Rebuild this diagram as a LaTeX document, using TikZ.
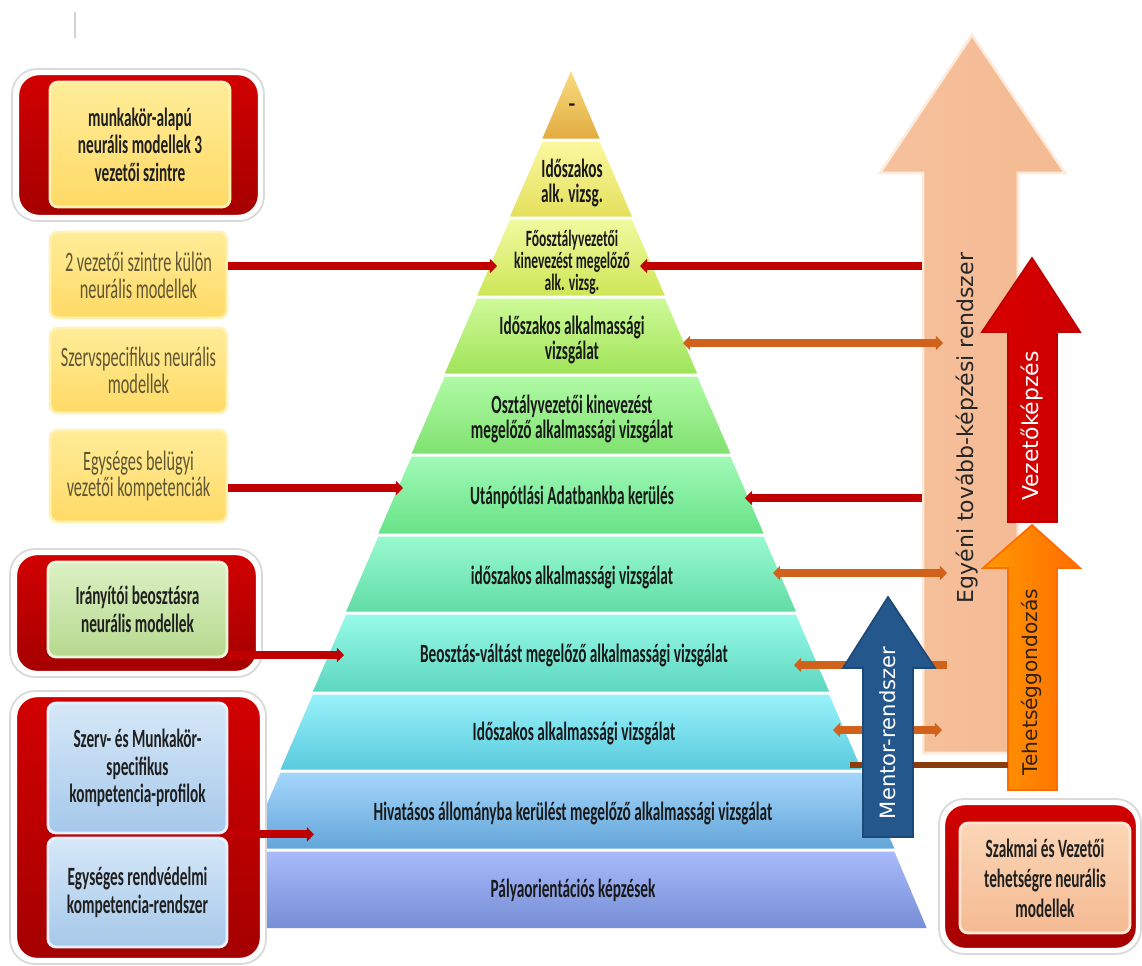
\documentclass[tikz,border=0pt]{standalone}
\usepackage{fontspec}
\setmainfont{Carlito}
\newfontfamily\condfont[FakeStretch=0.58]{Carlito}
\newfontfamily\arrowfont{DejaVu Sans}
\usetikzlibrary{positioning,arrows.meta}

\definecolor{frametop}{HTML}{D20000}
\definecolor{framebot}{HTML}{A40000}
\definecolor{linkred}{HTML}{C00000}
\definecolor{linkorange}{HTML}{D0621C}
\definecolor{linkbrown}{HTML}{8C3C0C}
\definecolor{yellowtop}{HTML}{FFEC98}
\definecolor{yellowbot}{HTML}{FFDA66}
\definecolor{yellowrim}{HTML}{FFF2B4}
\definecolor{greentop}{HTML}{DCF0C4}
\definecolor{greenbot}{HTML}{B6D98E}
\definecolor{bluetop}{HTML}{D6E8F8}
\definecolor{bluebot}{HTML}{A6C8EA}
\definecolor{peachtop}{HTML}{FBD6B6}
\definecolor{peachbot}{HTML}{F4BA92}
\definecolor{plaingray}{HTML}{5E5634}

\begin{document}
\begin{tikzpicture}[x=0.02cm, y=-0.02cm,
  level/.style={font=\condfont\bfseries\fontsize{15}{14.2}\selectfont, text=black!90, align=center},
  infobox/.style={rounded corners=0.16cm, line width=1.6pt, align=center, inner sep=2pt},
  yellowbox/.style={infobox, draw=yellowrim, top color=yellowtop, bottom color=yellowbot},
  greenbox/.style={infobox, draw=greentop!60!white, top color=greentop, bottom color=greenbot},
  bluebox/.style={infobox, draw=bluetop!60!white, top color=bluetop, bottom color=bluebot},
  peachbox/.style={infobox, draw=peachtop!60!white, top color=peachtop, bottom color=peachbot},
  boldtext/.style={font=\condfont\bfseries\fontsize{15}{15.6}\selectfont, text=black!88},
  plaintext/.style={font=\condfont\fontsize{16}{15.3}\selectfont, text=plaingray},
  redframe/.style={rounded corners=0.44cm, draw=white, line width=2.5pt, top color=frametop, bottom color=framebot},
  framerim/.style={rounded corners=0.5cm, draw=gray!30, line width=1pt, fill=white},
  arrowtext/.style={rotate=90, font=\arrowfont\fontsize{11}{11}\selectfont},
  redlink/.style={draw=linkred, line width=4.5pt, -{Triangle[length=4pt, width=8pt]}},
  orangelink/.style={draw=linkorange, line width=4.5pt, {Triangle[length=4pt, width=8pt]}-{Triangle[length=4pt, width=8pt]}},
  orangeone/.style={draw=linkorange, line width=4.5pt, -{Triangle[length=4pt, width=8pt]}}
]
\useasboundingbox (0,0) rectangle (1142,965);

% stray cursor mark
\draw[gray!35, line width=1.5pt] (75,12) -- (75,38);

% pyramid bands, top to bottom
\shade[top color={rgb,255:red,248;green,220;blue,128}, bottom color={rgb,255:red,226;green,172;blue,64}] (571,71) -- (599.6,138.5) -- (542.4,138.5) -- cycle;
\shade[top color={rgb,255:red,250;green,248;blue,160}, bottom color={rgb,255:red,228;green,224;blue,92}] (542.4,141.5) -- (599.6,141.5) -- (632,216.5) -- (510,216.5) -- cycle;
\shade[top color={rgb,255:red,240;green,250;blue,160}, bottom color={rgb,255:red,206;green,230;blue,88}] (510,219.5) -- (632,219.5) -- (664.8,295.5) -- (477.2,295.5) -- cycle;
\shade[top color={rgb,255:red,206;green,250;blue,152}, bottom color={rgb,255:red,160;green,228;blue,90}] (477.2,298.5) -- (664.8,298.5) -- (697.2,373.5) -- (444.8,373.5) -- cycle;
\shade[top color={rgb,255:red,176;green,250;blue,166}, bottom color={rgb,255:red,128;green,226;blue,112}] (444.8,376.5) -- (697.2,376.5) -- (730.4,453.5) -- (411.6,453.5) -- cycle;
\shade[top color={rgb,255:red,160;green,250;blue,182}, bottom color={rgb,255:red,104;green,226;blue,136}] (411.6,456.5) -- (730.4,456.5) -- (763.6,533.5) -- (378.4,533.5) -- cycle;
\shade[top color={rgb,255:red,152;green,250;blue,208}, bottom color={rgb,255:red,98;green,220;blue,166}] (378.4,536.5) -- (763.6,536.5) -- (795.9,611.5) -- (346.1,611.5) -- cycle;
\shade[top color={rgb,255:red,152;green,250;blue,232}, bottom color={rgb,255:red,92;green,214;blue,192}] (346.1,614.5) -- (795.9,614.5) -- (829.1,691.5) -- (312.9,691.5) -- cycle;
\shade[top color={rgb,255:red,152;green,242;blue,250}, bottom color={rgb,255:red,90;green,202;blue,222}] (312.9,694.5) -- (829.1,694.5) -- (861.5,769.5) -- (280.5,769.5) -- cycle;
\shade[top color={rgb,255:red,164;green,214;blue,250}, bottom color={rgb,255:red,100;green,166;blue,218}] (280.5,772.5) -- (861.5,772.5) -- (894.3,848.5) -- (247.7,848.5) -- cycle;
\shade[top color={rgb,255:red,168;green,186;blue,250}, bottom color={rgb,255:red,118;green,142;blue,214}] (247.7,851.5) -- (894.3,851.5) -- (926.7,928) -- (215.3,928) -- cycle;

% level captions
\node[level] (csucs) at (572,108) {–};
\node[level] (lev2) at (572,183) {Időszakos\\alk. vizsg.};
\node[level, font=\condfont\bfseries\fontsize{13.3}{12.5}\selectfont] (lev3) at (572,262) {Főosztályvezetői\\kinevezést megelőző\\alk. vizsg.};
\node[level] (lev4) at (572,340) {Időszakos alkalmassági\\vizsgálat};
\node[level] (lev5) at (572,419) {Osztályvezetői kinevezést\\megelőző alkalmassági vizsgálat};
\node[level] (lev6) at (572,497) {Utánpótlási Adatbankba kerülés};
\node[level] (lev7) at (572,577) {időszakos alkalmassági vizsgálat};
\node[level] (lev8) at (574,655) {Beosztás-váltást megelőző alkalmassági vizsgálat};
\node[level] (lev9) at (574,733) {Időszakos alkalmassági vizsgálat};
\node[level] (lev10) at (573,813) {Hivatásos állományba kerülést megelőző alkalmassági vizsgálat};
\node[level] (lev11) at (573,890) {Pályaorientációs képzések};

% ends of the links on the pyramid
\coordinate (lev3W) at (497,266);
\coordinate (lev3E) at (640,266);
\coordinate (lev4E) at (683,343);
\coordinate (lev6W) at (403,488);
\coordinate (lev6E) at (745,498);
\coordinate (lev7E) at (773,573);
\coordinate (lev8W) at (344,655);
\coordinate (lev8E) at (794,665);
\coordinate (lev9E) at (833,730);
\coordinate (lev10W) at (314,833);
\coordinate (lev10E) at (850,765);

% red frames on the left
\draw[framerim] (12,69) rectangle (264,221);
\draw[redframe] (17,73) rectangle (260,217);
\draw[framerim] (10,549) rectangle (262,677);
\draw[redframe] (15,553) rectangle (258,673);
\draw[framerim] (10,691) rectangle (266,964);
\draw[redframe] (15,695) rectangle (262,960);

% model boxes
\node[yellowbox, boldtext, minimum width=3.6cm, minimum height=2.5cm] (munkakor) at (140,144.5) {munkakör-alapú\\neurális modellek 3\\vezetői szintre};
\node[yellowbox, plaintext, minimum width=3.54cm, minimum height=1.72cm] (ketszint) at (138.5,275) {2 vezetői szintre külön\\neurális modellek};
\node[yellowbox, plaintext, minimum width=3.54cm, minimum height=1.7cm] (szervspec) at (138.5,370.5) {Szervspecifikus neurális\\modellek};
\node[yellowbox, plaintext, minimum width=3.54cm, minimum height=1.84cm] (belugyi) at (138.5,476) {Egységes belügyi\\vezetői kompetenciák};
\node[greenbox, boldtext, minimum width=3.58cm, minimum height=1.9cm] (iranyito) at (137.5,609.5) {Irányítói beosztásra\\neurális modellek};
\node[bluebox, boldtext, minimum width=3.58cm, minimum height=2.6cm] (profilok) at (137.5,768) {Szerv- és Munkakör-\\specifikus\\kompetencia-profilok};
\node[bluebox, boldtext, minimum width=3.58cm, minimum height=2.18cm] (rendved) at (137.5,892.5) {Egységes rendvédelmi\\kompetencia-rendszer};

% training arrow
\shade[draw=peachtop!50!white, line width=1.5pt, left color=peachbot!90!white, right color=peachbot] (923,753) -- (923,173) -- (880,173) -- (972,35) -- (1065,173) -- (1018,173) -- (1018,753) -- cycle;
\node[arrowtext, text=black!85, font=\arrowfont\fontsize{12.5}{12.5}\selectfont] (tovabb) at (967,428) {Egyéni tovább-képzési rendszer};

% leadership and talent arrows
\shade[draw=red!75!black, line width=1pt, left color=red!85!black, middle color=red, right color=red!80!black] (1008,522) -- (1008,332) -- (982,332) -- (1032,258) -- (1080,332) -- (1057,332) -- (1057,522) -- cycle;
\node[arrowtext, text=white, font=\arrowfont\fontsize{12.5}{12.5}\selectfont] (vezeto) at (1032,426) {Vezetőképzés};
\shade[draw=orange!85!red, line width=1pt, left color=orange!80!yellow, middle color=orange, right color=orange!85!red] (1008,790) -- (1008,568) -- (983,568) -- (1032,525) -- (1080,568) -- (1057,568) -- (1057,790) -- cycle;
\node[arrowtext, text=black!75!brown, font=\arrowfont\fontsize{11.5}{11.5}\selectfont] (tehetseg) at (1032,682) {Tehetséggondozás};

% free ends on the arrows
\coordinate (tovabb1) at (922,266);
\coordinate (tovabb2) at (943,343);
\coordinate (tovabb3) at (922,498);
\coordinate (tovabb4) at (947,573);
\coordinate (tovabb5) at (947,665);
\coordinate (tovabb6) at (942,730);
\coordinate (tehetsegW) at (1008,765);

% links
\draw[redlink] (ketszint.east |- lev3W) -- (lev3W);
\draw[redlink] (tovabb1) -- (lev3E);
\draw[orangelink] (lev4E) -- (tovabb2);
\draw[redlink] (belugyi.east |- lev6W) -- (lev6W);
\draw[redlink] (tovabb3) -- (lev6E);
\draw[orangelink] (lev7E) -- (tovabb4);
\draw[redlink] (iranyito.east |- lev8W) -- (lev8W);
\draw[orangeone] (tovabb5) -- (lev8E);
\draw[redlink] (profilok.south east) -- (profilok.south east -| lev10W);
\draw[orangelink] (lev9E) -- (tovabb6);
\draw[draw=linkbrown, line width=3.4pt] (lev10E) -- (tehetsegW);

% mentor arrow
\shade[draw={rgb,255:red,28;green,74;blue,120}, line width=1pt, left color={rgb,255:red,36;green,87;blue,140}, middle color={rgb,255:red,60;green,127;blue,192}, right color={rgb,255:red,36;green,87;blue,140}] (863,837) -- (863,668) -- (843,668) -- (888,597) -- (935,668) -- (913,668) -- (913,837) -- cycle;
\node[arrowtext, text=white, font=\arrowfont\fontsize{12}{12}\selectfont] (mentor) at (888,733) {Mentor-rendszer};

% talent models frame
\draw[framerim] (939,799) rectangle (1141,954);
\draw[redframe] (943,803) rectangle (1138,950);
\node[peachbox, boldtext, minimum width=3.4cm, minimum height=2.2cm, font=\condfont\bfseries\fontsize{15}{17}\selectfont] (szakmai) at (1045,878) {Szakmai és Vezetői\\tehetségre neurális\\modellek};
\end{tikzpicture}
\end{document}
